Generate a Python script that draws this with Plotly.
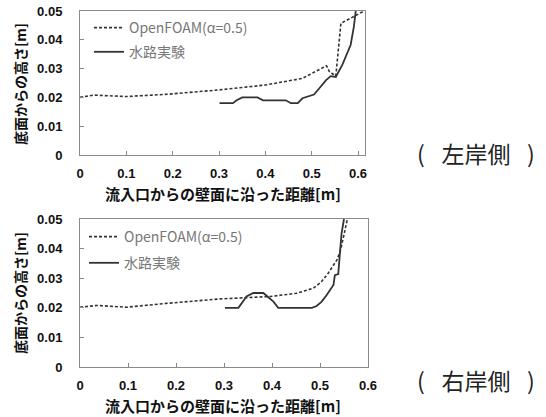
import plotly.graph_objects as go

# ---- data ----
top_foam_x = [0, 0.03, 0.10, 0.19, 0.30, 0.40, 0.48, 0.516, 0.527, 0.532, 0.538, 0.552, 0.563, 0.584, 0.613]
top_foam_y = [0.0200, 0.0208, 0.0203, 0.0211, 0.0226, 0.0243, 0.0266, 0.0298, 0.0307, 0.0310, 0.0290, 0.0274, 0.0457, 0.0474, 0.0500]

top_exp_x = [0.301, 0.330, 0.338, 0.350, 0.383, 0.395, 0.410, 0.444, 0.455, 0.470, 0.480, 0.490, 0.505,
             0.516, 0.531, 0.541, 0.552, 0.566, 0.577, 0.584, 0.591, 0.595]
top_exp_y = [0.0180, 0.0180, 0.0190, 0.0200, 0.0200, 0.0190, 0.0190, 0.0190, 0.0180, 0.0180, 0.0197, 0.0203, 0.0210,
             0.0231, 0.0260, 0.0274, 0.0271, 0.0313, 0.0353, 0.0382, 0.0446, 0.0500]

bot_foam_x = [0, 0.035, 0.097, 0.18, 0.292, 0.396, 0.451, 0.486, 0.503, 0.517, 0.535, 0.542, 0.549, 0.554, 0.557]
bot_foam_y = [0.0202, 0.0208, 0.0202, 0.0215, 0.0230, 0.0238, 0.0249, 0.0266, 0.0288, 0.0317, 0.0361, 0.0390, 0.0440, 0.0485, 0.0500]

bot_exp_x = [0.302, 0.330, 0.347, 0.361, 0.382, 0.403, 0.413, 0.483, 0.493, 0.503, 0.514, 0.528, 0.531, 0.538, 0.542, 0.545, 0.550]
bot_exp_y = [0.0200, 0.0200, 0.0238, 0.0250, 0.0250, 0.0221, 0.0200, 0.0200, 0.0206, 0.0220, 0.0243, 0.0277, 0.0310, 0.0314, 0.0395, 0.0452, 0.0500]

x_ticks = [0, 0.1, 0.2, 0.3, 0.4, 0.5, 0.6]
x_tick_labels = ["0", "0.1", "0.2", "0.3", "0.4", "0.5", "0.6"]
y_ticks = [0, 0.01, 0.02, 0.03, 0.04, 0.05]
y_tick_labels = ["0", "0.01", "0.02", "0.03", "0.04", "0.05"]

name_foam = "OpenFOAM(α=0.5)"
name_exp = "水路実験"
x_title = "<b>流入口からの壁面に沿った距離[m]</b>"
y_title = "<b>底面からの高さ[m]</b>"
side_top = "(\u2002\u00a0左岸側\u2002\u00a0)"
side_bot = "(\u2002\u00a0右岸側\u2002\u00a0)"

W, H = 546, 417
LINE = "#333333"
FONT_NUM = "Liberation Sans, Arial, sans-serif"
FONT_JP = "Noto Sans CJK JP, sans-serif"

fig = go.Figure()
fig.add_trace(go.Scatter(x=top_foam_x, y=top_foam_y, mode="lines", name=name_foam, legendgroup="a",
                         line=dict(color=LINE, width=1.6, dash="3px,2px"), xaxis="x", yaxis="y", legend="legend"))
fig.add_trace(go.Scatter(x=top_exp_x, y=top_exp_y, mode="lines", name=name_exp, legendgroup="b",
                         line=dict(color=LINE, width=1.8), xaxis="x", yaxis="y", legend="legend"))
fig.add_trace(go.Scatter(x=bot_foam_x, y=bot_foam_y, mode="lines", name=name_foam, legendgroup="c",
                         line=dict(color=LINE, width=1.6, dash="3px,2px"), xaxis="x2", yaxis="y2", legend="legend2"))
fig.add_trace(go.Scatter(x=bot_exp_x, y=bot_exp_y, mode="lines", name=name_exp, legendgroup="d",
                         line=dict(color=LINE, width=1.8), xaxis="x2", yaxis="y2", legend="legend2"))

def px_x(p):
    return p / W

def px_y(p):
    return 1 - p / H

axis_common = dict(showgrid=False, zeroline=False, showline=True, linecolor="#8a8a8a", linewidth=1,
                   mirror=True, ticks="inside", ticklen=4, tickcolor="#8a8a8a", automargin=False,
                   tickfont=dict(family=FONT_NUM, size=13, color="#111"))

fig.update_layout(
    width=W, height=H, margin=dict(l=0, r=0, t=0, b=0, autoexpand=False),
    paper_bgcolor="white", plot_bgcolor="white",
    xaxis=dict(domain=[px_x(80), px_x(365)], range=[0, 0.615], anchor="y", ticklabelstandoff=6,
               tickvals=x_ticks, ticktext=["<b>%s</b>" % t for t in x_tick_labels], **axis_common),
    yaxis=dict(domain=[px_y(155), px_y(11)], range=[0, 0.05], anchor="x", ticklabelstandoff=14,
               tickvals=y_ticks, ticktext=["<b>%s</b>" % t for t in y_tick_labels], **axis_common),
    xaxis2=dict(domain=[px_x(80), px_x(368)], range=[0, 0.6], anchor="y2", ticklabelstandoff=6,
                tickvals=x_ticks, ticktext=["<b>%s</b>" % t for t in x_tick_labels], **axis_common),
    yaxis2=dict(domain=[px_y(367), px_y(219)], range=[0, 0.05], anchor="x2", ticklabelstandoff=14,
                tickvals=y_ticks, ticktext=["<b>%s</b>" % t for t in y_tick_labels], **axis_common),
    legend=dict(x=px_x(89), y=px_y(12), xanchor="left", yanchor="top", bgcolor="rgba(0,0,0,0)",
                font=dict(family=FONT_JP, size=14, color="#777"), tracegroupgap=3, itemwidth=30),
    legend2=dict(x=px_x(84), y=px_y(221), xanchor="left", yanchor="top", bgcolor="rgba(0,0,0,0)",
                 font=dict(family=FONT_JP, size=14, color="#777"), tracegroupgap=5, itemwidth=30),
    showlegend=True,
)

ann = []
for yc in (193, 405):
    ann.append(dict(text=x_title, x=px_x(222.5), y=px_y(yc), xref="paper", yref="paper",
                    showarrow=False, xanchor="center", yanchor="middle",
                    font=dict(family=FONT_JP, size=15, color="#111")))
for yc in (84, 293):
    ann.append(dict(text=y_title, x=px_x(20), y=px_y(yc), xref="paper", yref="paper",
                    showarrow=False, xanchor="center", yanchor="middle", textangle=-90,
                    font=dict(family=FONT_JP, size=14, color="#111")))
ann.append(dict(text=side_top, x=px_x(476), y=px_y(153), xref="paper", yref="paper", showarrow=False,
                xanchor="center", yanchor="middle", font=dict(family=FONT_JP, size=23, color="#222")))
ann.append(dict(text=side_bot, x=px_x(476), y=px_y(380), xref="paper", yref="paper", showarrow=False,
                xanchor="center", yanchor="middle", font=dict(family=FONT_JP, size=23, color="#222")))
fig.update_layout(annotations=ann)

fig.write_html("out.html", config={"displayModeBar": False},
               post_script="document.body.style.margin='0';document.body.style.overflow='hidden';")
